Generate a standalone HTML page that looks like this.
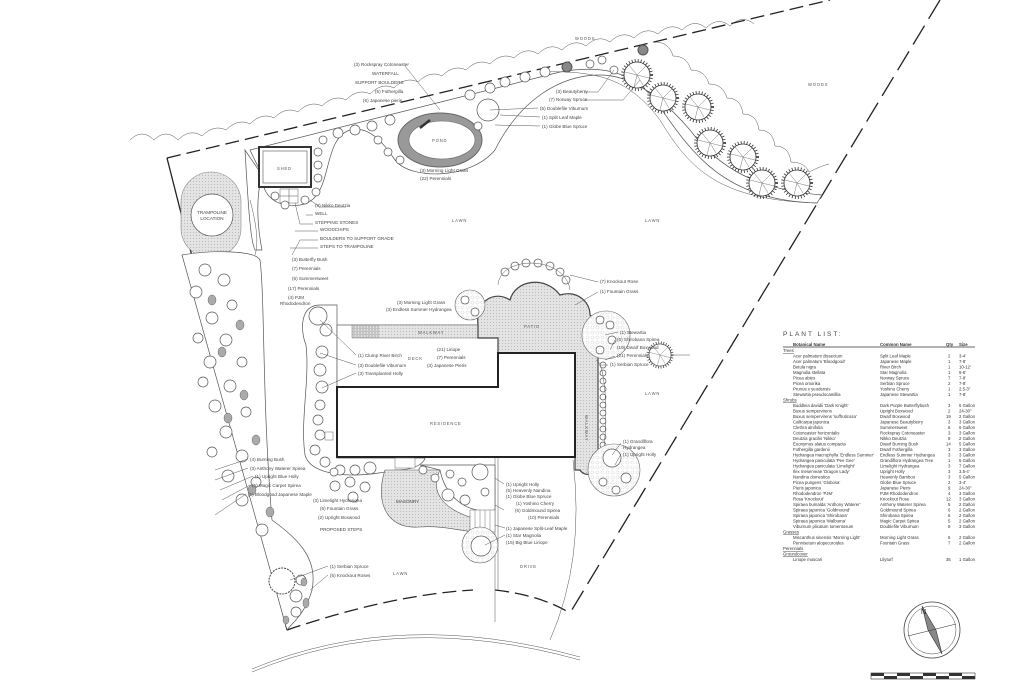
<!DOCTYPE html>
<html><head><meta charset="utf-8"><style>
html,body{margin:0;padding:0;background:#fff;}
svg{display:block;font-family:"Liberation Sans",sans-serif;}
.t{font-size:4.6px;fill:#444;}
.s{font-size:4.2px;fill:#555;letter-spacing:0.8px;}
.l{stroke:#555;stroke-width:0.5;fill:none;}
.p{fill:#fff;stroke:#555;stroke-width:0.7;}
.g{fill:#aaa;stroke:#666;stroke-width:0.5;}
.tb{font-size:4.3px;fill:#333;}
</style></head><body>
<svg width="1024" height="692" viewBox="0 0 1024 692" xmlns="http://www.w3.org/2000/svg">
<defs>
<pattern id="h" width="3" height="3" patternUnits="userSpaceOnUse"><rect width="3" height="3" fill="#e4e4e4"/><circle cx="1.5" cy="1.5" r="0.6" fill="#bbb"/></pattern>
<pattern id="dots" width="5" height="5" patternUnits="userSpaceOnUse"><rect width="5" height="5" fill="#fff"/><circle cx="2.5" cy="2.5" r="1.6" fill="none" stroke="#ccc" stroke-width="0.4"/></pattern>
<g id="tree"><circle r="14.5" fill="none" stroke="#333" stroke-width="3" stroke-dasharray="0.8,2.2"/><circle r="13" fill="#fff" stroke="#333" stroke-width="0.8"/><path d="M0,0L9,-9M0,0L12,3M0,0L-12,-3M0,0L-3,12M0,0L6,10M0,0L-8,-10" stroke="#555" stroke-width="0.4"/></g>
</defs>
<rect width="1024" height="692" fill="#fff"/>

<!-- woods wavy lines -->
<path class="l" stroke="#999" d="M130,140 q12,-12 24,0 q12,-12 24,0 q12,-12 24,-4 q12,-12 24,-6 q12,-12 24,-6 q12,-12 24,-6 q12,-12 24,-6 q12,-12 24,-6 q12,-12 24,-6 q12,-12 24,-6 q12,-12 24,-6 q12,-12 24,-6 q12,-12 24,-6 q12,-12 24,-6 q12,-12 24,-6 q12,-12 24,-6 q12,-12 24,-4 q12,-12 24,-4 q12,-12 24,-4 q12,-12 24,-4 q12,-12 24,-4 q12,-12 24,-4 q12,-12 24,-4 q12,-12 24,-2 q12,-12 24,-2 q12,-12 24,-2"/>
<path class="l" stroke="#aaa" d="M655,42 q14,0 18,14 q14,0 18,14 q14,0 18,14 q14,0 18,14 q14,0 16,16 q14,0 16,16 q14,0 16,16 q14,0 16,16 q14,0 18,10 q12,-6 20,-8"/>
<text class="s" x="575" y="40">WOODS</text>
<text class="s" x="808" y="86">WOODS</text>

<!-- property boundary -->
<path d="M167,158 L830,0" stroke="#222" stroke-width="1.3" stroke-dasharray="14,6" fill="none"/>
<path d="M167,158 L287,630" stroke="#222" stroke-width="1.3" fill="none"/>
<path d="M940,0 L570,613" stroke="#222" stroke-width="1.3" stroke-dasharray="22,8" fill="none"/>
<path d="M287,630 Q390,595 473,590" stroke="#222" stroke-width="1.3" stroke-dasharray="14,6" fill="none"/>
<path d="M495,590 Q540,595 570,613" stroke="#222" stroke-width="1.3" stroke-dasharray="14,6" fill="none"/>

<!-- road -->
<path class="l" d="M252,672 Q400,610 580,660"/><path class="l" d="M252,669 Q400,607 580,657"/>
<!-- drive -->
<path class="l" d="M495,455 L495,622"/><path class="l" d="M498,455 L498,590"/>
<path class="l" d="M573,460 Q585,560 550,640"/>
<text class="s" x="520" y="568">DRIVE</text>

<text class="s" x="452" y="222">LAWN</text>
<text class="s" x="645" y="222">LAWN</text>
<text class="s" x="645" y="395">LAWN</text>
<text class="s" x="393" y="575">LAWN</text>

<!-- top bed -->
<path class="p" fill="url(#dots)" d="M250,150 L560,72 C600,65 630,70 655,100 C690,150 720,200 817,203 L822,195 C760,190 720,170 690,130 C660,95 630,75 600,75 C560,75 520,100 495,150 C470,180 410,180 395,160 C385,145 370,125 350,130 C320,140 335,200 300,205 C275,208 262,195 262,175 Z"/>
<path class="l" d="M540,72 C600,70 630,80 660,120 C690,170 720,200 817,203" stroke-width="0.7"/>
<path class="p" fill="url(#dots)" d="M245,150 C248,200 250,240 255,250 L262,250 C258,230 255,200 262,175 Z"/>
<!-- shed -->
<rect x="259" y="147" width="52" height="40" fill="#fff" stroke="#333" stroke-width="2"/>
<rect x="263" y="151" width="44" height="32" fill="#fff" stroke="#555" stroke-width="0.6"/>
<text class="s" x="277" y="170">SHED</text>
<rect x="280" y="189" width="18" height="14" fill="#fff" stroke="#666" stroke-width="0.5"/>
<path class="l" d="M289,189 V203 M280,196 H298"/>
<!-- pond -->
<ellipse cx="440" cy="140" rx="42" ry="27" fill="#999" stroke="#666"/>
<ellipse cx="442" cy="140" rx="33" ry="19" fill="#fff" stroke="#666" stroke-width="0.6"/>
<text class="s" x="432" y="142">POND</text>
<path d="M420,128 l10,-8" stroke="#333" stroke-width="2.5"/>
<g class="p">
<circle cx="275" cy="196" r="4"/><circle cx="285" cy="205" r="4"/><circle cx="305" cy="200" r="4"/><circle cx="316" cy="192" r="4"/><circle cx="318" cy="178" r="4"/><circle cx="318" cy="165" r="4"/><circle cx="318" cy="152" r="4"/><circle cx="323" cy="140" r="4"/>
<circle cx="338" cy="133" r="5"/><circle cx="355" cy="130" r="5"/><circle cx="372" cy="126" r="5"/><circle cx="390" cy="120" r="5"/><circle cx="378" cy="140" r="4"/><circle cx="388" cy="152" r="4"/><circle cx="400" cy="160" r="4"/>
<circle cx="470" cy="95" r="5"/><circle cx="490" cy="88" r="5"/><circle cx="505" cy="82" r="5"/><circle cx="525" cy="77" r="5"/><circle cx="545" cy="72" r="5"/><circle cx="488" cy="110" r="11"/><circle cx="478" cy="126" r="4"/>
<circle cx="590" cy="64" r="4"/><circle cx="602" cy="60" r="4"/><circle cx="614" cy="70" r="4"/>
</g>
<circle cx="567" cy="67" r="5" fill="#888" stroke="#555"/>
<circle cx="643" cy="50" r="5" fill="#888" stroke="#555"/>
<!-- big trees right strip -->
<use href="#tree" x="637" y="75"/><use href="#tree" x="663" y="98"/><use href="#tree" x="698" y="107"/><use href="#tree" x="710" y="143"/><use href="#tree" x="743" y="157"/><use href="#tree" x="762" y="183"/><use href="#tree" x="797" y="183"/>

<!-- trampoline -->
<rect x="181" y="172" width="60" height="86" rx="30" fill="url(#h)" stroke="#888" stroke-width="0.6"/>
<circle cx="212" cy="215" r="21" fill="#fff" stroke="#555" stroke-width="0.7"/>
<text class="t" x="212" y="214" text-anchor="middle">TRAMPOLINE</text>
<text class="t" x="212" y="220" text-anchor="middle">LOCATION</text>
<path class="l" d="M250,200 C258,230 258,245 255,255"/>

<!-- left bed -->
<path class="p" fill="url(#dots)" d="M182,255 C210,250 255,250 260,260 C265,300 262,400 272,520 C300,540 318,560 312,590 C305,615 290,625 287,630 Z" stroke-width="0.6"/>
<g class="p">
<circle cx="205" cy="270" r="6"/><circle cx="224" cy="280" r="6"/><circle cx="196" cy="292" r="6"/><circle cx="232" cy="305" r="5"/><circle cx="212" cy="318" r="6"/><circle cx="198" cy="338" r="5"/><circle cx="226" cy="340" r="6"/><circle cx="210" cy="362" r="6"/><circle cx="242" cy="362" r="5"/><circle cx="203" cy="382" r="5"/><circle cx="230" cy="386" r="6"/><circle cx="215" cy="406" r="6"/><circle cx="246" cy="412" r="5"/><circle cx="226" cy="432" r="6"/><circle cx="212" cy="452" r="5"/><circle cx="242" cy="456" r="6"/><circle cx="228" cy="476" r="6"/><circle cx="256" cy="482" r="5"/><circle cx="242" cy="500" r="6"/><circle cx="262" cy="530" r="6"/><circle cx="296" cy="596" r="6"/><circle cx="296" cy="612" r="5"/><circle cx="301" cy="580" r="5"/>
</g>
<g class="g">
<ellipse cx="212" cy="300" rx="4" ry="5"/><ellipse cx="240" cy="325" rx="4" ry="5"/><ellipse cx="222" cy="352" rx="4" ry="5"/><ellipse cx="244" cy="395" rx="4" ry="5"/><ellipse cx="228" cy="418" rx="4" ry="5"/><ellipse cx="256" cy="440" rx="4" ry="5"/><ellipse cx="252" cy="490" rx="4" ry="5"/><ellipse cx="270" cy="512" rx="4" ry="5"/><ellipse cx="306" cy="603" rx="3" ry="5"/><ellipse cx="286" cy="620" rx="3" ry="4"/><ellipse cx="304" cy="582" rx="3" ry="4"/>
</g>
<circle cx="282" cy="581" r="13" fill="#fff" stroke="#444" stroke-dasharray="2,1"/>

<!-- west bed by house -->
<path class="p" fill="url(#dots)" d="M320,305 C300,305 300,330 306,345 C310,380 300,420 305,455 C310,475 350,480 395,470 C420,470 425,460 425,458 L337,458 L337,305 Z" stroke-width="0.6"/>
<g class="p">
<circle cx="318" cy="316" r="9"/><circle cx="326" cy="330" r="6"/><circle cx="322" cy="352" r="6"/><circle cx="320" cy="370" r="6"/><circle cx="322" cy="387" r="6"/><circle cx="320" cy="405" r="5"/><circle cx="318" cy="420" r="5"/><circle cx="320" cy="435" r="5"/><circle cx="315" cy="450" r="5"/><circle cx="325" cy="462" r="5"/><circle cx="340" cy="470" r="5"/><circle cx="355" cy="470" r="5"/><circle cx="370" cy="468" r="6"/><circle cx="334" cy="472" r="4"/>
</g>
<rect x="325" y="432" width="8" height="8" fill="#fff" stroke="#666" stroke-width="0.5"/>

<!-- deck and walkway -->
<rect x="337" y="325" width="161" height="62" fill="#fff" stroke="#666" stroke-width="0.8"/>
<rect x="352" y="325" width="126" height="13" fill="url(#h)" stroke="#777" stroke-width="0.5"/>
<g stroke="#666" stroke-width="0.5"><path d="M354,325V338M357,325V338M360,325V338M363,325V338M366,325V338M369,325V338M372,325V338M375,325V338M378,325V338"/></g>
<text class="s" x="418" y="334">WALKWAY</text>
<text class="s" x="408" y="360">DECK</text>
<!-- patio -->
<path fill="url(#h)" stroke="#444" stroke-width="1.2" d="M478,325 C475,300 495,290 510,300 C515,280 545,275 560,295 C575,290 590,300 590,315 C605,325 600,345 598,350 L598,462 C598,475 585,478 580,470 L575,470 L575,353 L498,353 L498,338 L478,338 Z"/>
<text class="s" x="524" y="328">PATIO</text>
<text class="s" x="585" y="415" transform="rotate(90 585 415)">WALKWAY</text>
<g class="p"><circle cx="505" cy="272" r="4"/><circle cx="515" cy="266" r="4"/><circle cx="526" cy="263" r="4"/><circle cx="538" cy="263" r="4"/><circle cx="550" cy="266" r="4"/><circle cx="560" cy="272" r="4"/><circle cx="566" cy="280" r="4"/></g>
<path class="l" d="M498,285 C500,255 565,255 570,290"/>
<circle cx="470" cy="305" r="15" fill="url(#dots)" stroke="#666" stroke-width="0.6"/>
<circle cx="606" cy="335" r="24" fill="url(#dots)" stroke="#666" stroke-width="0.6"/>
<g class="p"><circle cx="600" cy="320" r="4"/><circle cx="610" cy="325" r="4"/><circle cx="612" cy="340" r="4"/><circle cx="600" cy="350" r="4"/><circle cx="465" cy="300" r="4"/><circle cx="475" cy="312" r="4"/></g>
<g class="p"><circle cx="603" cy="365" r="3"/><circle cx="603" cy="373" r="3"/><circle cx="603" cy="381" r="3"/><circle cx="603" cy="389" r="3"/><circle cx="603" cy="397" r="3"/><circle cx="603" cy="405" r="3"/><circle cx="603" cy="413" r="3"/><circle cx="603" cy="421" r="3"/><circle cx="603" cy="429" r="3"/><circle cx="603" cy="437" r="3"/><circle cx="603" cy="445" r="3"/><circle cx="603" cy="453" r="3"/></g>
<path class="l" d="M596,360 C610,365 608,470 596,470"/>
<circle cx="614" cy="470" r="26" fill="url(#dots)" stroke="#666" stroke-width="0.6"/>
<g class="p"><circle cx="612" cy="458" r="9"/><circle cx="626" cy="478" r="5"/><circle cx="603" cy="482" r="4"/><circle cx="616" cy="490" r="4"/></g>
<use href="#tree" x="660" y="355" transform="translate(660 355) scale(0.85) translate(-660 -355)"/>

<!-- residence -->
<path d="M337,387 L498,387 L498,353 L575,353 L575,457 L337,457 Z" fill="#fff" stroke="#222" stroke-width="2"/>
<text class="s" x="430" y="425">RESIDENCE</text>
<rect x="395" y="458" width="20" height="10" fill="#fff" stroke="#666" stroke-width="0.5"/>

<!-- masonry & south beds -->
<path fill="url(#h)" stroke="#555" stroke-width="0.6" d="M385,470 C375,500 385,530 420,527 C450,525 470,535 480,530 L480,520 C440,510 430,490 440,470 Z"/>
<text class="t" x="396" y="503">MASONRY</text>
<path class="p" fill="url(#dots)" stroke-width="0.6" d="M420,465 L495,465 L495,510 C465,515 445,495 440,470 Z"/>
<g class="p"><circle cx="423" cy="470" r="4"/><circle cx="435" cy="478" r="4"/><circle cx="450" cy="474" r="4"/><circle cx="462" cy="482" r="4"/><circle cx="448" cy="495" r="6"/><circle cx="465" cy="500" r="5"/><circle cx="480" cy="472" r="8"/><circle cx="485" cy="492" r="4"/></g>
<rect x="470" y="510" width="25" height="22" fill="#fff" stroke="#666" stroke-width="0.5"/>
<g stroke="#777" stroke-width="0.5"><path d="M475,510V532M480,510V532M485,510V532M490,510V532"/></g>
<circle cx="480" cy="545" r="18" fill="url(#dots)" stroke="#666" stroke-width="0.6"/>
<circle cx="481" cy="546" r="10" class="p"/>
<g class="p"><circle cx="350" cy="482" r="5"/><circle cx="365" cy="487" r="5"/><circle cx="353" cy="497" r="5"/><circle cx="335" cy="486" r="5"/></g>

<g class="t">
<text x="354" y="66">(3) Rockspray Cotoneaster</text>
<text x="372" y="75">WATERFALL</text>
<text x="355" y="84">SUPPORT BOULDERS</text>
<text x="375" y="93">(5) Fothergilla</text>
<text x="363" y="102">(6) Japanese pieris</text>
<text x="420" y="172">(3) Morning Light Grass</text>
<text x="420" y="180">(22) Perennials</text>
<text x="315" y="207">(8) Nikko Deutzia</text>
<text x="315" y="215">WELL</text>
<text x="315" y="224">STEPPING STONES</text>
<text x="320" y="231">WOODCHIPS</text>
<text x="320" y="240">BOULDERS TO SUPPORT GRADE</text>
<text x="320" y="248">STEPS TO TRAMPOLINE</text>
<text x="292" y="261">(3) Butterfly Bush</text>
<text x="292" y="270">(7) Perennials</text>
<text x="292" y="280">(6) Summersweet</text>
<text x="288" y="290">(17) Perennials</text>
<text x="288" y="299">(4) PJM</text>
<text x="280" y="305">Rhododendron</text>
<text x="358" y="357">(1) Clump River Birch</text>
<text x="358" y="367">(3) Doublefile Viburnum</text>
<text x="358" y="375">(3) Transplanted Holly</text>
<text x="397" y="304">(3) Morning Light Grass</text>
<text x="386" y="311">(3) Endless Summer Hydrangea</text>
<text x="437" y="351">(21) Liriope</text>
<text x="437" y="359">(7) Perennials</text>
<text x="427" y="367">(3) Japanese Pieris</text>
<text x="250" y="461">(4) Burning Bush</text>
<text x="250" y="470">(3) Anthony Waterer Spirea</text>
<text x="255" y="478">(1) Upright Blue Holly</text>
<text x="252" y="487">(5) Magic Carpet Spirea</text>
<text x="248" y="496">(1) Bloodgood Japanese Maple</text>
<text x="313" y="502">(3) Limelight Hydrangea</text>
<text x="320" y="510">(6) Fountain Grass</text>
<text x="318" y="519">(2) Upright Boxwood</text>
<text x="320" y="531">PROPOSED STEPS</text>
<text x="330" y="568">(1) Serbian Spruce</text>
<text x="330" y="577">(5) Knockout Roses</text>
<text x="506" y="486">(1) Upright Holly</text>
<text x="506" y="492">(5) Heavenly Nandina</text>
<text x="506" y="498">(1) Globe Blue Spruce</text>
<text x="516" y="505">(1) Yoshino Cherry</text>
<text x="515" y="512">(6) Goldmound Spirea</text>
<text x="528" y="519">(10) Perennials</text>
<text x="506" y="530">(1) Japanese Split-Leaf Maple</text>
<text x="506" y="537">(1) Star Magnolia</text>
<text x="506" y="544">(15) Big Blue Liriope</text>
<text x="556" y="93">(3) Beautyberry</text>
<text x="549" y="101">(7) Norway Spruce</text>
<text x="540" y="110">(5) Doublefile Viburnum</text>
<text x="542" y="119">(1) Split Leaf Maple</text>
<text x="542" y="128">(1) Globe Blue Spruce</text>
<text x="600" y="283">(7) Knockout Rose</text>
<text x="600" y="293">(1) Fountain Grass</text>
<text x="620" y="334">(1) Stewartia</text>
<text x="617" y="341">(6) Shirobana Spirea</text>
<text x="617" y="349">(19) Dwarf Boxwood</text>
<text x="617" y="357">(21) Perennials</text>
<text x="610" y="366">(1) Serbian Spruce</text>
<text x="623" y="443">(1) Grandiflora</text>
<text x="623" y="449">Hydrangea</text>
<text x="623" y="456">(1) Upright Holly</text>
</g>
<g class="l">
<path d="M405,66 L440,110"/>
<path d="M346,207H320L310,200M306,215H313M313,224H300L295,203M318,231H295M318,240H300L292,255M318,248H290"/>
<path d="M248,459L215,470M248,468L215,480M253,476L220,490M250,485L222,500M246,494L215,515"/>
<path d="M328,566L290,580M328,575L310,590"/>
<path d="M504,484L495,478M504,510L495,505M505,528L495,525M505,535L485,545"/>
<path d="M584,92L598,92L614,70M584,100L623,100L640,80M538,108L490,110M540,117L500,115M540,126L495,125"/>
<path d="M598,282L570,275M598,292L575,305M618,332L605,335M615,340L610,350M615,356L605,360M608,365L600,365"/>
<path d="M621,443L612,455M621,454L615,465"/>
<path d="M356,355L320,320M356,365L320,353M356,373L322,388"/>
</g>
<path class="l" d="M672,355 L690,355"/>

<!-- plant list -->
<text x="783" y="336" style="font-size:6.5px;letter-spacing:2px;fill:#444">PLANT LIST:</text>
<line x1="783" y1="347" x2="975" y2="347" stroke="#333" stroke-width="0.8"/>
<g class="tb">
<text x="793" y="346" font-weight="bold">Botanical Name</text><text x="880" y="346" font-weight="bold">Common Name</text><text x="946" y="346" font-weight="bold">Qty</text><text x="959" y="346" font-weight="bold">Size</text>
</g>
<g class="tb">
<text x="783" y="352" text-decoration="underline">Trees</text>
<text x="793" y="357.5">Acer palmatum dissectum</text><text x="880" y="357.5">Split Leaf Maple</text><text x="948" y="357.5">2</text><text x="959" y="357.5">3-4'</text>
<text x="793" y="363">Acer palmatum 'Bloodgood'</text><text x="880" y="363">Japanese Maple</text><text x="948" y="363">1</text><text x="959" y="363">7-8'</text>
<text x="793" y="368.5">Betula nigra</text><text x="880" y="368.5">River Birch</text><text x="948" y="368.5">1</text><text x="959" y="368.5">10-12'</text>
<text x="793" y="374">Magnolia stellata</text><text x="880" y="374">Star Magnolia</text><text x="948" y="374">1</text><text x="959" y="374">5-6'</text>
<text x="793" y="379.5">Picea abies</text><text x="880" y="379.5">Norway Spruce</text><text x="948" y="379.5">7</text><text x="959" y="379.5">7-8'</text>
<text x="793" y="385">Picea omorika</text><text x="880" y="385">Serbian Spruce</text><text x="948" y="385">2</text><text x="959" y="385">7-8'</text>
<text x="793" y="390.5">Prunus x yeodensis</text><text x="880" y="390.5">Yoshino Cherry</text><text x="948" y="390.5">1</text><text x="959" y="390.5">2.5-3"</text>
<text x="793" y="396">Stewartia pseudocamillia</text><text x="880" y="396">Japanese Stewartia</text><text x="948" y="396">1</text><text x="959" y="396">7-8'</text>
<text x="783" y="401.5" text-decoration="underline">Shrubs</text>
<text x="793" y="407">Buddleia davidii 'Dark Knight'</text><text x="880" y="407">Dark Purple Butterflybush</text><text x="948" y="407">3</text><text x="959" y="407">5 Gallon</text>
<text x="793" y="412.5">Buxus sempervirens</text><text x="880" y="412.5">Upright Boxwood</text><text x="948" y="412.5">2</text><text x="959" y="412.5">24-30"</text>
<text x="793" y="418">Buxus sempervirens 'suffruticosa'</text><text x="880" y="418">Dwarf Boxwood</text><text x="946" y="418">19</text><text x="959" y="418">2 Gallon</text>
<text x="793" y="423.5">Callicarpa japonica</text><text x="880" y="423.5">Japanese Beautyberry</text><text x="948" y="423.5">3</text><text x="959" y="423.5">3 Gallon</text>
<text x="793" y="429">Clethra alnifolia</text><text x="880" y="429">Summersweet</text><text x="948" y="429">6</text><text x="959" y="429">5 Gallon</text>
<text x="793" y="434.5">Cotoneaster horizontalis</text><text x="880" y="434.5">Rockspray Cotoneaster</text><text x="948" y="434.5">3</text><text x="959" y="434.5">3 Gallon</text>
<text x="793" y="440">Deutzia gracilis 'Nikko'</text><text x="880" y="440">Nikko Deutzia</text><text x="948" y="440">8</text><text x="959" y="440">2 Gallon</text>
<text x="793" y="445.5">Euonymus alatus compacta</text><text x="880" y="445.5">Dwarf Burning Bush</text><text x="946" y="445.5">14</text><text x="959" y="445.5">5 Gallon</text>
<text x="793" y="451">Fothergilla gardenii</text><text x="880" y="451">Dwarf Fothergilla</text><text x="948" y="451">3</text><text x="959" y="451">3 Gallon</text>
<text x="793" y="456.5">Hydrangea macrophylla 'Endless Summer'</text><text x="880" y="456.5">Endless Summer Hydrangea</text><text x="948" y="456.5">3</text><text x="959" y="456.5">3 Gallon</text>
<text x="793" y="462">Hydrangea paniculata 'Pee Gee'</text><text x="880" y="462">Grandiflora Hydrangea Tree</text><text x="948" y="462">1</text><text x="959" y="462">5 Gallon</text>
<text x="793" y="467.5">Hydrangea paniculata 'Limelight'</text><text x="880" y="467.5">Limelight Hydrangea</text><text x="948" y="467.5">3</text><text x="959" y="467.5">7 Gallon</text>
<text x="793" y="473">Ilex meserveae 'Dragon Lady'</text><text x="880" y="473">Upright Holly</text><text x="948" y="473">3</text><text x="959" y="473">3.5-4'</text>
<text x="793" y="478.5">Nandina domestica</text><text x="880" y="478.5">Heavenly Bamboo</text><text x="948" y="478.5">3</text><text x="959" y="478.5">5 Gallon</text>
<text x="793" y="484">Picea pungens 'Globosa'</text><text x="880" y="484">Globe Blue Spruce</text><text x="948" y="484">2</text><text x="959" y="484">3-4'</text>
<text x="793" y="489.5">Pieris japonica</text><text x="880" y="489.5">Japanese Pieris</text><text x="948" y="489.5">9</text><text x="959" y="489.5">24-30"</text>
<text x="793" y="495">Rhododendron 'PJM'</text><text x="880" y="495">PJM Rhododendron</text><text x="948" y="495">4</text><text x="959" y="495">3 Gallon</text>
<text x="793" y="500.5">Rosa 'Knockout'</text><text x="880" y="500.5">Knockout Rose</text><text x="946" y="500.5">12</text><text x="959" y="500.5">3 Gallon</text>
<text x="793" y="506">Spiraea bumalda 'Anthony Waterer'</text><text x="880" y="506">Anthony Waterer Spirea</text><text x="948" y="506">5</text><text x="959" y="506">2 Gallon</text>
<text x="793" y="511.5">Spiraea japonica 'Goldmound'</text><text x="880" y="511.5">Goldmound Spirea</text><text x="948" y="511.5">6</text><text x="959" y="511.5">2 Gallon</text>
<text x="793" y="517">Spiraea japonica 'Shirobana'</text><text x="880" y="517">Shirobana Spirea</text><text x="948" y="517">6</text><text x="959" y="517">2 Gallon</text>
<text x="793" y="522.5">Spiraea japonica 'Walbuma'</text><text x="880" y="522.5">Magic Carpet Spirea</text><text x="948" y="522.5">5</text><text x="959" y="522.5">2 Gallon</text>
<text x="793" y="528">Viburnum plicatum tomentosum</text><text x="880" y="528">Doublefile Viburnum</text><text x="948" y="528">8</text><text x="959" y="528">3 Gallon</text>
<text x="783" y="533.5" text-decoration="underline">Grasses</text>
<text x="793" y="539">Miscanthus sinensis 'Morning Light'</text><text x="880" y="539">Morning Light Grass</text><text x="948" y="539">6</text><text x="959" y="539">2 Gallon</text>
<text x="793" y="544.5">Pennisetum alopecuroides</text><text x="880" y="544.5">Fountain Grass</text><text x="948" y="544.5">7</text><text x="959" y="544.5">2 Gallon</text>
<text x="783" y="550" text-decoration="underline">Perennials</text>
<text x="783" y="555.5" text-decoration="underline">Groundcover</text>
<text x="793" y="561">Liriope muscari</text><text x="880" y="561">Lilyturf</text><text x="946" y="561">36</text><text x="959" y="561">1 Gallon</text>
</g>

<!-- north arrow -->
<circle cx="932" cy="630" r="28" fill="#fff" stroke="#444" stroke-width="0.8"/>
<circle cx="932" cy="630" r="24" fill="none" stroke="#444" stroke-width="0.5"/>
<path d="M922,606 L936,630 L942,654 L928,630 Z" fill="#888" stroke="#333" stroke-width="0.6"/>
<path d="M908,636 L932,630 L956,624 L932,630 Z" fill="#aaa" stroke="#333" stroke-width="0.6"/>
<text x="921" y="614" style="font-size:7px;fill:#222">N</text>
<!-- scale bar -->
<rect x="871" y="673" width="104" height="6" fill="#fff" stroke="#333" stroke-width="0.6"/>
<g fill="#333"><rect x="871" y="673" width="13" height="3"/><rect x="897" y="673" width="13" height="3"/><rect x="923" y="673" width="13" height="3"/><rect x="949" y="673" width="13" height="3"/><rect x="884" y="676" width="13" height="3"/><rect x="910" y="676" width="13" height="3"/><rect x="936" y="676" width="13" height="3"/><rect x="962" y="676" width="13" height="3"/></g>
</svg>
</body></html>
